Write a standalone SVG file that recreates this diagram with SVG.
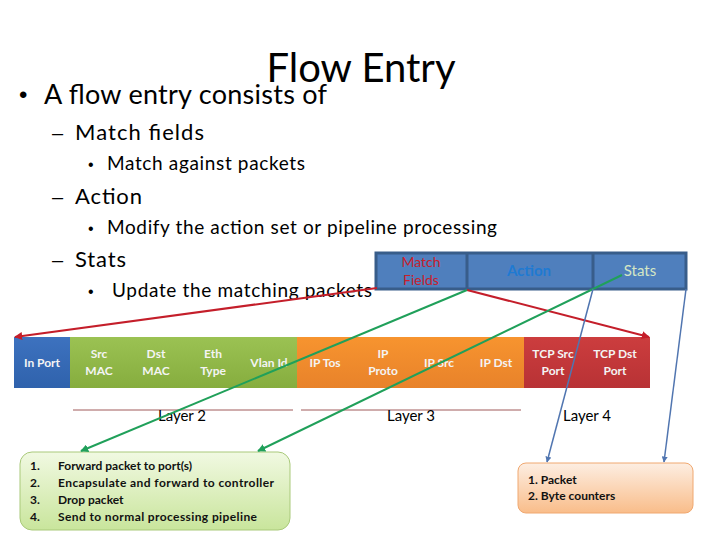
<svg xmlns="http://www.w3.org/2000/svg" width="720" height="540" viewBox="0 0 720 540">
<defs>
<style>
.t{font-family:Lato,"Liberation Sans",Arial,sans-serif;fill:#000}
.s{font-family:"Liberation Sans",Arial,sans-serif;fill:#000}
.f{font-family:Lato,"Liberation Sans",Arial,sans-serif;font-size:12px;font-weight:bold;fill:#f4f4f4;text-anchor:middle}
.b{font-family:Lato,"Liberation Sans",Arial,sans-serif;font-size:12px;font-weight:bold;fill:#111}
.lay{stroke:#a05a5a;stroke-width:1}
.red{stroke:#c41e2a;stroke-width:2;fill:none}
.grn{stroke:#20a05a;stroke-width:2;fill:none}
.blu{stroke:#5075b0;stroke-width:1.5;fill:none}
.hdr{fill:#4f7fbd;stroke:#385d8a;stroke-width:3}
</style>
<marker id="mr" viewBox="0 0 10 10" refX="9" refY="5" markerWidth="4" markerHeight="4" orient="auto"><path d="M0,0 L10,5 L0,10 z" fill="#c41e2a"/></marker>
<marker id="mg" viewBox="0 0 10 10" refX="9" refY="5" markerWidth="4" markerHeight="4" orient="auto"><path d="M0,0 L10,5 L0,10 z" fill="#20a05a"/></marker>
<marker id="mb" viewBox="0 0 10 10" refX="9" refY="5" markerWidth="4" markerHeight="4" orient="auto"><path d="M0,0 L10,5 L0,10 z" fill="#5075b0"/></marker>
<linearGradient id="gGreen" x1="0" y1="0" x2="0" y2="1"><stop offset="0" stop-color="#f1f9e2"/><stop offset="1" stop-color="#c9e59c"/></linearGradient>
<linearGradient id="gOrange" x1="0" y1="0" x2="0" y2="1"><stop offset="0" stop-color="#fdeee2"/><stop offset="1" stop-color="#f9bd8a"/></linearGradient>
<linearGradient id="gBlue" x1="0" y1="0" x2="0" y2="1"><stop offset="0" stop-color="#3d72bf"/><stop offset="1" stop-color="#2f62ac"/></linearGradient>
<linearGradient id="gLime" x1="0" y1="0" x2="0" y2="1"><stop offset="0" stop-color="#9bc253"/><stop offset="1" stop-color="#86ad3e"/></linearGradient>
<linearGradient id="gOr" x1="0" y1="0" x2="0" y2="1"><stop offset="0" stop-color="#f7942f"/><stop offset="1" stop-color="#e8822a"/></linearGradient>
<linearGradient id="gRed" x1="0" y1="0" x2="0" y2="1"><stop offset="0" stop-color="#cc3d3e"/><stop offset="1" stop-color="#b83235"/></linearGradient>
</defs>
<rect width="720" height="540" fill="#ffffff"/>

<g id="title">
<text class="t" x="361" y="82" font-size="40" text-anchor="middle">Flow Entry</text>
</g>

<g id="bullets">
<text class="s" x="19" y="103" font-size="24">•</text>
<text class="t" x="44" y="104" font-size="27" textLength="283">A flow entry consists of</text>
<text class="s" x="52" y="140" font-size="20">–</text>
<text class="t" x="75" y="140" font-size="22" textLength="129">Match fields</text>
<text class="s" x="88" y="170" font-size="16">•</text>
<text class="t" x="107" y="170" font-size="19" textLength="198">Match against packets</text>
<text class="s" x="52" y="204" font-size="20">–</text>
<text class="t" x="75" y="204" font-size="22" textLength="67">Action</text>
<text class="s" x="88" y="234" font-size="16">•</text>
<text class="t" x="107" y="234" font-size="19" textLength="390">Modify the action set or pipeline processing</text>
<text class="s" x="52" y="267" font-size="20">–</text>
<text class="t" x="75" y="267" font-size="22" textLength="51">Stats</text>
<text class="s" x="88" y="297" font-size="16">•</text>
<text class="t" x="112" y="297" font-size="19" textLength="260">Update the matching packets</text>
</g>

<g id="header">
<rect class="hdr" x="376" y="253" width="310" height="36"/>
<line x1="467" y1="253" x2="467" y2="289" stroke="#385d8a" stroke-width="3"/>
<line x1="593" y1="253" x2="593" y2="289" stroke="#385d8a" stroke-width="3"/>
<text x="421" y="267" font-family="Lato,Liberation Sans,Arial,sans-serif" font-size="14" fill="#c8202c" text-anchor="middle">Match</text>
<text x="421" y="285" font-family="Lato,Liberation Sans,Arial,sans-serif" font-size="14" fill="#c8202c" text-anchor="middle">Fields</text>
<text x="529" y="276" font-family="Lato,Liberation Sans,Arial,sans-serif" font-size="15" font-weight="bold" fill="#1f7ad2" text-anchor="middle">Action</text>
<text x="640" y="276" font-family="Lato,Liberation Sans,Arial,sans-serif" font-size="15" fill="#d4e6c4" text-anchor="middle">Stats</text>
</g>

<g id="fields">
<rect x="14" y="337" width="56" height="51" fill="url(#gBlue)"/>
<rect x="70" y="337" width="227" height="51" fill="url(#gLime)"/>
<rect x="297" y="337" width="227" height="51" fill="url(#gOr)"/>
<rect x="524" y="337" width="126" height="51" fill="url(#gRed)"/>
<text class="f" x="42" y="367">In Port</text>
<text class="f" x="99" y="358">Src</text><text class="f" x="99" y="375">MAC</text>
<text class="f" x="156" y="358">Dst</text><text class="f" x="156" y="375">MAC</text>
<text class="f" x="213" y="358">Eth</text><text class="f" x="213" y="375">Type</text>
<text class="f" x="269" y="367">Vlan Id</text>
<text class="f" x="325" y="367">IP Tos</text>
<text class="f" x="383" y="358">IP</text><text class="f" x="383" y="375">Proto</text>
<text class="f" x="439" y="367">IP Src</text>
<text class="f" x="496" y="367">IP Dst</text>
<text class="f" x="553" y="358">TCP Src</text><text class="f" x="553" y="375">Port</text>
<text class="f" x="615" y="358">TCP Dst</text><text class="f" x="615" y="375">Port</text>
</g>

<g id="layers">
<line class="lay" x1="73" y1="410" x2="293" y2="410"/>
<line class="lay" x1="301" y1="410" x2="521" y2="410"/>
<text class="t" x="182" y="421" font-size="15" text-anchor="middle">Layer 2</text>
<text class="t" x="411" y="421" font-size="15" text-anchor="middle">Layer 3</text>
<text class="t" x="587" y="421" font-size="15" text-anchor="middle">Layer 4</text>
</g>

<g id="actions">
<rect x="20" y="452" width="270" height="78" rx="12" fill="url(#gGreen)" stroke="#a9c97a" stroke-width="1"/>
<text class="b" x="30" y="470">1.</text><text class="b" x="58" y="470">Forward packet to port(s)</text>
<text class="b" x="30" y="487">2.</text><text class="b" x="58" y="487" textLength="216">Encapsulate and forward to controller</text>
<text class="b" x="30" y="504">3.</text><text class="b" x="58" y="504">Drop packet</text>
<text class="b" x="30" y="521">4.</text><text class="b" x="58" y="521" textLength="199">Send to normal processing pipeline</text>
</g>

<g id="counters">
<rect x="518" y="463" width="175" height="50" rx="8" fill="url(#gOrange)" stroke="#f0a870" stroke-width="1"/>
<text class="b" x="528" y="484">1. Packet</text>
<text class="b" x="528" y="500">2. Byte counters</text>
</g>

<g id="connectors">
<line class="red" x1="377" y1="288" x2="15" y2="337" marker-end="url(#mr)"/>
<line class="red" x1="467" y1="290" x2="649" y2="337" marker-end="url(#mr)"/>
<line class="grn" x1="467" y1="290" x2="81" y2="451" marker-end="url(#mg)"/>
<line class="grn" x1="622" y1="275" x2="258" y2="451" marker-end="url(#mg)"/>
<line class="blu" x1="593" y1="289" x2="547" y2="462" marker-end="url(#mb)"/>
<line class="blu" x1="686" y1="289" x2="664" y2="462" marker-end="url(#mb)"/>
</g>
</svg>
